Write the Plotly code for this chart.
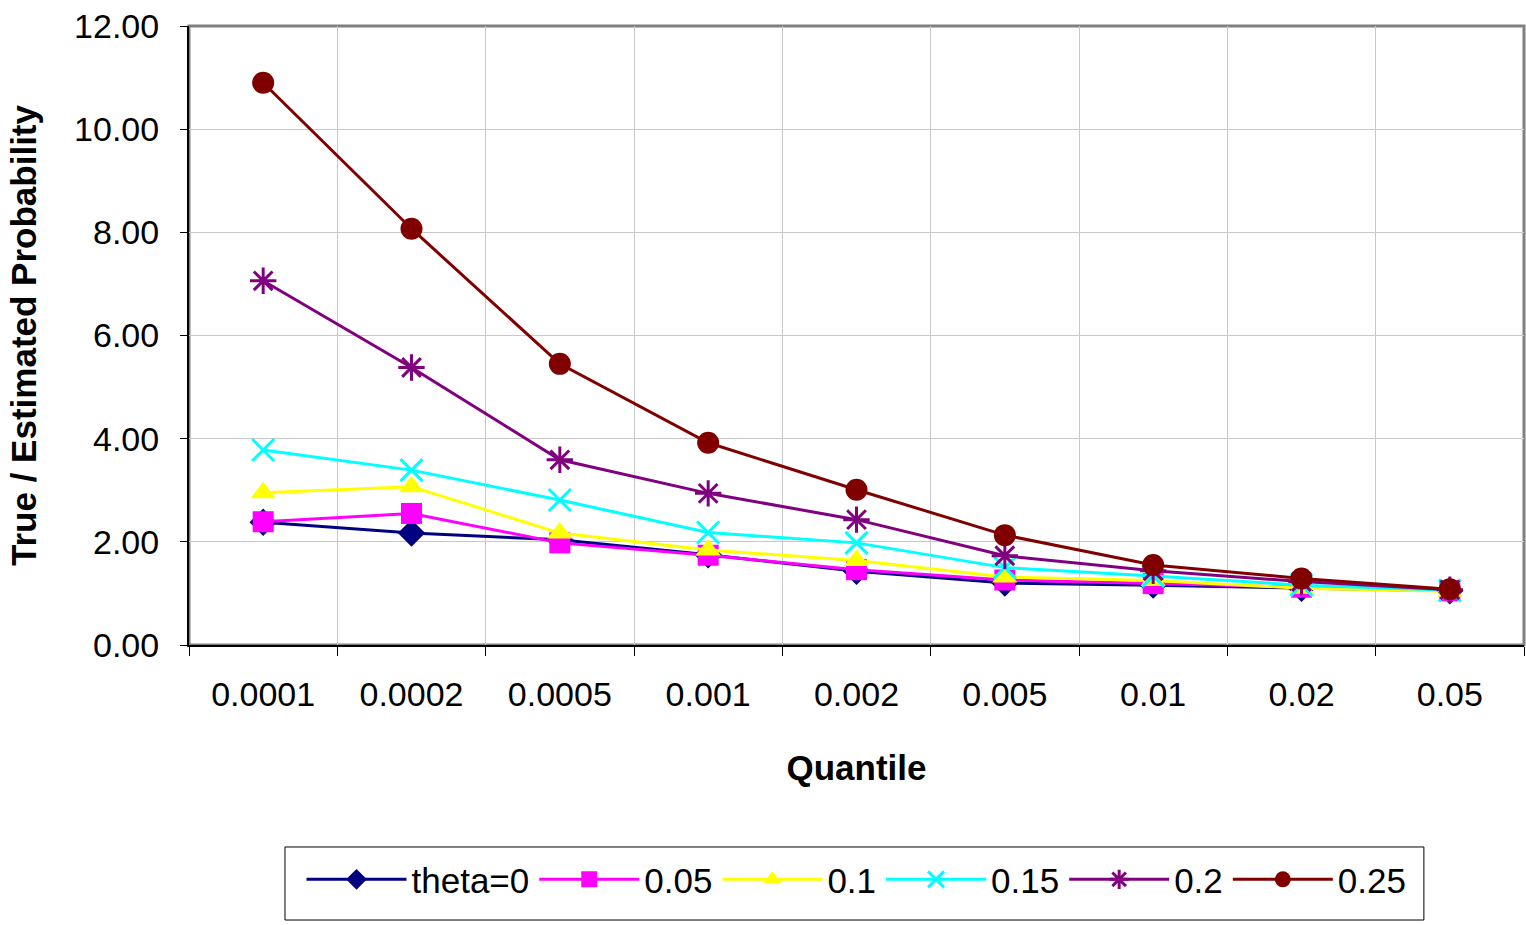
import plotly.graph_objects as go

quantiles = ["0.0001", "0.0002", "0.0005", "0.001", "0.002", "0.005", "0.01", "0.02", "0.05"]

theta_0 = [2.38, 2.17, 2.04, 1.75, 1.43, 1.20, 1.16, 1.10, 1.05]
theta_005 = [2.39, 2.55, 1.98, 1.74, 1.46, 1.26, 1.19, 1.12, 1.05]
theta_010 = [2.95, 3.07, 2.17, 1.84, 1.64, 1.32, 1.25, 1.10, 1.04]
theta_015 = [3.78, 3.39, 2.81, 2.18, 1.98, 1.50, 1.34, 1.16, 1.06]
theta_020 = [7.06, 5.38, 3.59, 2.94, 2.43, 1.73, 1.44, 1.23, 1.07]
theta_025 = [10.90, 8.07, 5.45, 3.92, 3.01, 2.13, 1.55, 1.29, 1.08]

series_names = ["theta=0", "0.05", "0.1", "0.15", "0.2", "0.25"]
series_values = [theta_0, theta_005, theta_010, theta_015, theta_020, theta_025]
colors = ["#000080", "#FF00FF", "#FFFF00", "#00FFFF", "#800080", "#800000"]
symbols = ["diamond", "square", "triangle-up", "x-thin-open", "asterisk-open", "circle"]
sizes = [21, 21, 22, 22, 22, 22]

FONT = "Liberation Sans, Arial, sans-serif"

fig = go.Figure()
for name, vals, c, s, sz in zip(series_names, series_values, colors, symbols, sizes):
    marker = dict(symbol=s, size=sz, color=c)
    if s.endswith("open"):
        marker["line"] = dict(color=c, width=3)
    fig.add_trace(go.Scatter(
        x=quantiles, y=vals, name=name, mode="lines+markers",
        line=dict(color=c, width=3), marker=marker,
    ))

# plot-area border (gray) like the original
fig.add_shape(type="rect", xref="x domain", yref="y domain", x0=0, x1=1, y0=0, y1=1,
              line=dict(color="#808080", width=3), layer="below")
# legend frame
fig.add_shape(type="rect", xref="paper", yref="paper", x0=0.0719, x1=0.925, y0=-0.4443, y1=-0.3263,
              line=dict(color="black", width=1), layer="below")

fig.update_layout(
    width=1526, height=925,
    margin=dict(l=189, r=2, t=26, b=280, autoexpand=False),
    paper_bgcolor="white", plot_bgcolor="white",
    font=dict(family=FONT, size=34, color="black"),
    showlegend=True,
    legend=dict(
        orientation="h", x=0.5, xanchor="center", y=-0.379, yanchor="middle",
        borderwidth=0, bgcolor="rgba(0,0,0,0)",
        font=dict(family=FONT, size=35, color="black"),
        itemwidth=100, tracegroupgap=0,
    ),
)

fig.update_xaxes(
    type="category", range=[-0.5, 8.5],
    tickson="boundaries", ticks="outside", ticklen=9, tickcolor="black", tickwidth=1,
    showline=True, linecolor="black", linewidth=2,
    showgrid=True, gridcolor="#C8C8C8", gridwidth=1,
    tickfont=dict(family=FONT, size=34, color="black"),
    ticklabelstandoff=18,
    title=dict(text="<b>Quantile</b>", font=dict(family=FONT, size=35, color="black"), standoff=44),
)
fig.update_yaxes(
    range=[0, 12], dtick=2, tickformat=".2f",
    ticks="outside", ticklen=7, tickcolor="black", tickwidth=1,
    showline=True, linecolor="black", linewidth=2,
    showgrid=True, gridcolor="#C8C8C8", gridwidth=1, zeroline=False,
    tickfont=dict(family=FONT, size=34, color="black"),
    ticklabelstandoff=14,
    title=dict(text="<b>True / Estimated Probability</b>", font=dict(family=FONT, size=35, color="black"), standoff=27),
)

fig.write_html("out.html")
